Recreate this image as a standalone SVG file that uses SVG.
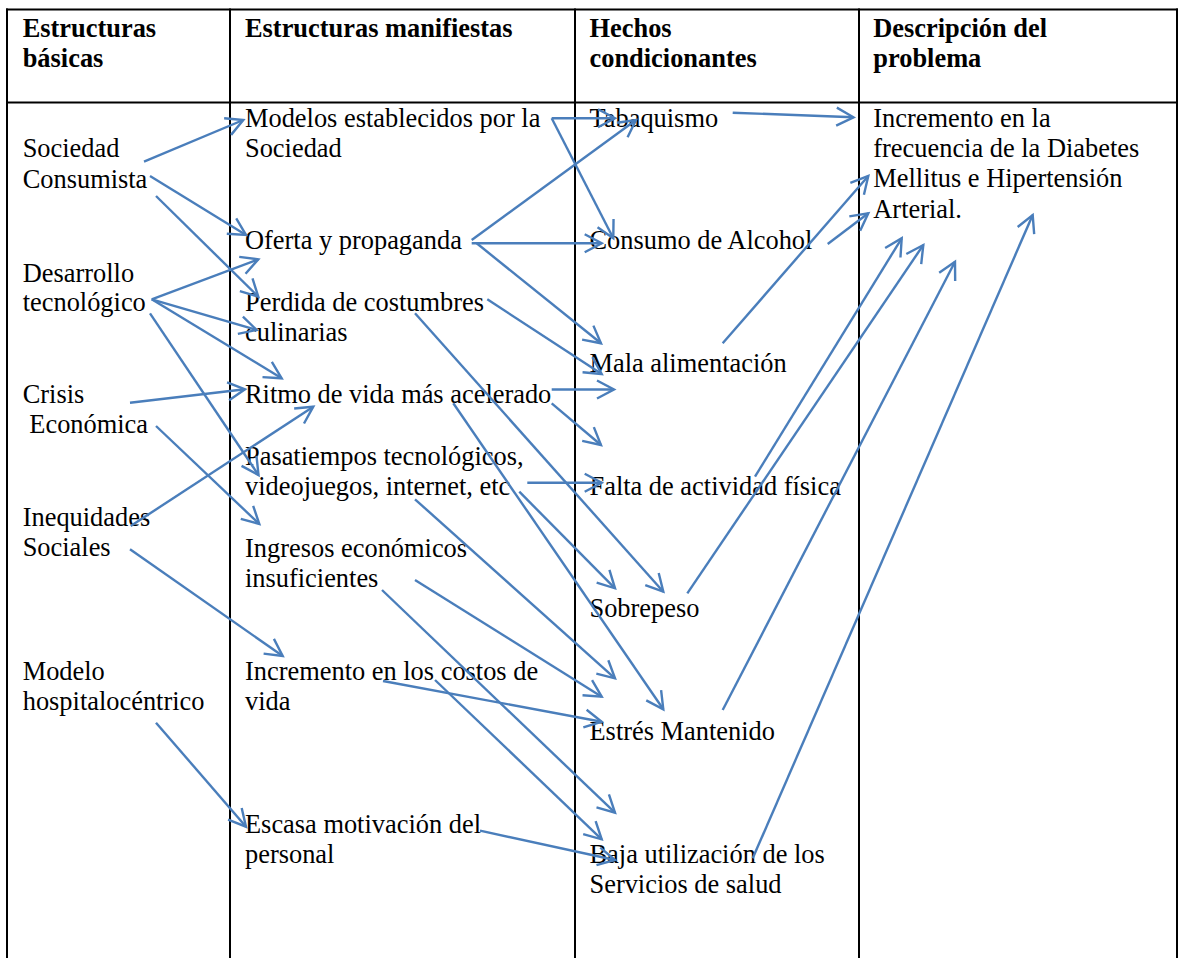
<svg xmlns="http://www.w3.org/2000/svg" width="1181" height="958" viewBox="0 0 1181 958">
  <defs>
    <style>
      .grid { stroke: #000; stroke-width: 2; fill: none; }
      .hd { font-family: "Liberation Serif", "Times New Roman", serif; font-size: 26.4px; font-weight: bold; fill: #000; }
      .tx { font-family: "Liberation Serif", "Times New Roman", serif; font-size: 26.4px; fill: #000; }
      .arr { stroke: #4a7ebb; stroke-width: 2.4; fill: none; marker-end: url(#head); }
    </style>
    <!-- open V arrowhead -->
    <marker id="head" markerUnits="userSpaceOnUse" viewBox="-20 -12 24 24" markerWidth="24" markerHeight="24" refX="0" refY="0" orient="auto">
      <path d="M-17,-9 L0,0 L-17,9" fill="none" stroke="#4a7ebb" stroke-width="2.4" stroke-linejoin="miter"/>
    </marker>
  </defs>

  <rect width="1181" height="958" fill="#fff"/>

  <!-- table rules -->
  <g id="table" class="grid">
    <line x1="6" y1="9.5" x2="1178" y2="9.5"/>
    <line x1="6" y1="102.5" x2="1178" y2="102.5"/>
    <line x1="7" y1="8.5" x2="7" y2="958"/>
    <line x1="230" y1="8.5" x2="230" y2="958"/>
    <line x1="575" y1="8.5" x2="575" y2="958"/>
    <line x1="859" y1="8.5" x2="859" y2="958"/>
    <line x1="1177" y1="8.5" x2="1177" y2="958"/>
  </g>

  <!-- column headings -->
  <g id="headers" class="hd">
    <text x="22.7" y="37">Estructuras</text>
    <text x="22.7" y="67">básicas</text>
    <text x="245" y="37">Estructuras manifiestas</text>
    <text x="589.5" y="37">Hechos</text>
    <text x="589.5" y="67">condicionantes</text>
    <text x="873.3" y="37">Descripción del</text>
    <text x="873.3" y="67">problema</text>
  </g>

  <!-- basic structures -->
  <g id="n-sociedad-consumista" class="tx"><text x="22.7" y="157.3">Sociedad</text><text x="22.7" y="187.5">Consumista</text></g>
  <g id="n-desarrollo-tecnologico" class="tx"><text x="22.7" y="281.7">Desarrollo</text><text x="22.7" y="311">tecnológico</text></g>
  <g id="n-crisis-economica" class="tx"><text x="22.7" y="402.7">Crisis</text><text x="29.3" y="433.3">Económica</text></g>
  <g id="n-inequidades-sociales" class="tx"><text x="22.7" y="526">Inequidades</text><text x="22.7" y="556.3">Sociales</text></g>
  <g id="n-modelo-hospitalocentrico" class="tx"><text x="22.7" y="679.5">Modelo</text><text x="22.7" y="709.5">hospitalocéntrico</text></g>

  <!-- manifest structures -->
  <g id="n-modelos-establecidos" class="tx"><text x="245" y="126.7">Modelos establecidos por la</text><text x="245" y="157.3">Sociedad</text></g>
  <g id="n-oferta-propaganda" class="tx"><text x="245" y="249.3">Oferta y propaganda</text></g>
  <g id="n-perdida-costumbres" class="tx"><text x="245" y="310.7">Perdida de costumbres</text><text x="245" y="340.5">culinarias</text></g>
  <g id="n-ritmo-vida" class="tx"><text x="245" y="402.7">Ritmo de vida más acelerado</text></g>
  <g id="n-pasatiempos" class="tx"><text x="245" y="465">Pasatiempos tecnológicos,</text><text x="245" y="495">videojuegos, internet, etc</text></g>
  <g id="n-ingresos" class="tx"><text x="245" y="556.5">Ingresos económicos</text><text x="245" y="586.5">insuficientes</text></g>
  <g id="n-costos-vida" class="tx"><text x="245" y="679.5">Incremento en los costos de</text><text x="245" y="709.5">vida</text></g>
  <g id="n-escasa-motivacion" class="tx"><text x="245" y="832.7">Escasa motivación del</text><text x="245" y="862.7">personal</text></g>

  <!-- conditioning facts -->
  <g id="n-tabaquismo" class="tx"><text x="589.5" y="126.7">Tabaquismo</text></g>
  <g id="n-alcohol" class="tx"><text x="589.5" y="249.3">Consumo de Alcohol</text></g>
  <g id="n-mala-alimentacion" class="tx"><text x="589.5" y="371.7">Mala alimentación</text></g>
  <g id="n-actividad-fisica" class="tx"><text x="589.5" y="495">Falta de actividad física</text></g>
  <g id="n-sobrepeso" class="tx"><text x="589.5" y="617.3">Sobrepeso</text></g>
  <g id="n-estres" class="tx"><text x="589.5" y="740">Estrés Mantenido</text></g>
  <g id="n-baja-utilizacion" class="tx"><text x="589.5" y="862.7">Baja utilización de los</text><text x="589.5" y="892.7">Servicios de salud</text></g>

  <!-- problem description -->
  <g id="n-problema" class="tx">
    <text x="873.3" y="126.7">Incremento en la</text>
    <text x="873.3" y="157">frecuencia de la Diabetes</text>
    <text x="873.3" y="187.3">Mellitus e Hipertensión</text>
    <text x="873.3" y="217.6">Arterial.</text>
  </g>

  <!-- causal arrows -->
  <g id="connectors" class="arr">
    <line x1="144" y1="161.7" x2="243.3" y2="120"/>
    <line x1="150" y1="176" x2="246" y2="235"/>
    <line x1="156" y1="196" x2="258.3" y2="296.7"/>
    <line x1="151.7" y1="299.3" x2="258.3" y2="259.3"/>
    <line x1="151.7" y1="299.3" x2="256.7" y2="330"/>
    <line x1="151.7" y1="299.3" x2="281.7" y2="378.3"/>
    <line x1="150" y1="313.3" x2="258.5" y2="475"/>
    <line x1="130" y1="402.7" x2="245" y2="389.3"/>
    <line x1="156" y1="426" x2="259.3" y2="524"/>
    <line x1="130.7" y1="526" x2="313.3" y2="406.7"/>
    <line x1="130" y1="549.3" x2="282.7" y2="656"/>
    <line x1="156" y1="722.7" x2="246" y2="826.7"/>

    <line x1="551.7" y1="118.3" x2="615" y2="118.3"/>
    <line x1="551.7" y1="118.3" x2="613.3" y2="238.3"/>
    <line x1="471.7" y1="240" x2="636" y2="120"/>
    <line x1="471.7" y1="243.3" x2="601.7" y2="243.3"/>
    <line x1="476.7" y1="243.3" x2="601" y2="343.3"/>
    <line x1="487.3" y1="299.3" x2="601.7" y2="374"/>
    <line x1="415" y1="313.3" x2="663.3" y2="591.7"/>
    <line x1="551.7" y1="389.5" x2="614" y2="389.5"/>
    <line x1="551.7" y1="403.3" x2="601" y2="445"/>
    <line x1="527.3" y1="482.7" x2="601.7" y2="482.7"/>
    <line x1="519.3" y1="491.7" x2="615" y2="588.3"/>
    <line x1="453.3" y1="403.3" x2="663.3" y2="709.3"/>
    <line x1="415" y1="499.3" x2="615" y2="678.3"/>
    <line x1="415" y1="580" x2="601.7" y2="696.7"/>
    <line x1="382" y1="590" x2="615" y2="812.7"/>
    <line x1="435" y1="680" x2="601.7" y2="839.3"/>
    <line x1="383" y1="681" x2="601.7" y2="721.7"/>
    <line x1="480" y1="830.7" x2="615" y2="860"/>

    <line x1="732.7" y1="112.7" x2="853.5" y2="117.3"/>
    <line x1="827.7" y1="244" x2="868.3" y2="213.3"/>
    <line x1="722.7" y1="343.3" x2="868.3" y2="176"/>
    <line x1="755" y1="476.7" x2="901.7" y2="238.3"/>
    <line x1="687.3" y1="593.3" x2="923.3" y2="245"/>
    <line x1="722.7" y1="710" x2="955" y2="261.7"/>
    <line x1="752.7" y1="858.3" x2="1032.7" y2="215"/>
  </g>
</svg>
